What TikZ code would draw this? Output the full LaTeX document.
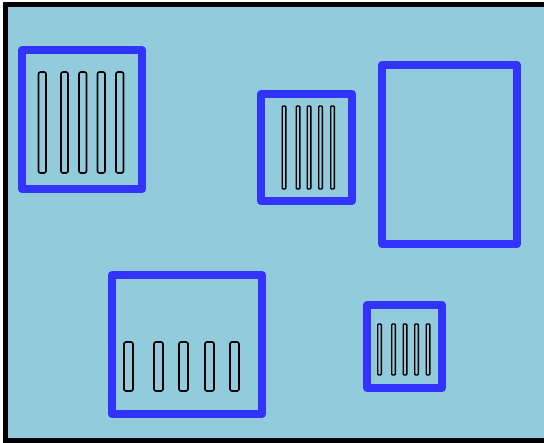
\documentclass[tikz,border=0pt]{standalone}
\definecolor{panelbg}{RGB}{146,203,220}
\definecolor{frameblue}{RGB}{51,51,255}
\begin{document}
\begin{tikzpicture}[x=1pt,y=-1pt,
  housing/.style={draw=frameblue,line width=8pt,line join=round},
  slot/.style={draw=black,line width=1.6pt,rounded corners=2pt},
  thinslot/.style={draw=black,line width=1.4pt,rounded corners=1pt},
  ]
\useasboundingbox (0,0) rectangle (544,443);
\clip (0,0) rectangle (544,443);
% panel
\draw[fill=panelbg,line width=5pt] (5.5,4.5) rectangle (560,440.5);
% top-left unit
\draw[housing] (22,50) rectangle (142,189);
\foreach \a/\b in {38.5/46,61/68,79/86.5,97.5/105,116/123.5}
  \draw[slot] (\a,72) rectangle (\b,173);
% centre unit
\draw[housing] (261,94) rectangle (352,201);
\foreach \a/\b in {282.2/285.8,296.2/299.8,307.2/310.8,318.7/322.3,330.7/334.3}
  \draw[thinslot] (\a,106) rectangle (\b,189);
% empty unit
\draw[housing] (382,65) rectangle (517,244);
% bottom-left unit
\draw[housing] (112,275) rectangle (262,414);
\foreach \a/\b in {124/133,154/163,179/188,205/214,230/239}
  \draw[slot] (\a,342) rectangle (\b,391);
% bottom-right unit
\draw[housing] (367,305) rectangle (442,388);
\foreach \a/\b in {377.7/381.3,391.7/395.3,403.2/406.8,414.7/418.3,426.2/429.8}
  \draw[thinslot] (\a,324) rectangle (\b,375);
\end{tikzpicture}
\end{document}
